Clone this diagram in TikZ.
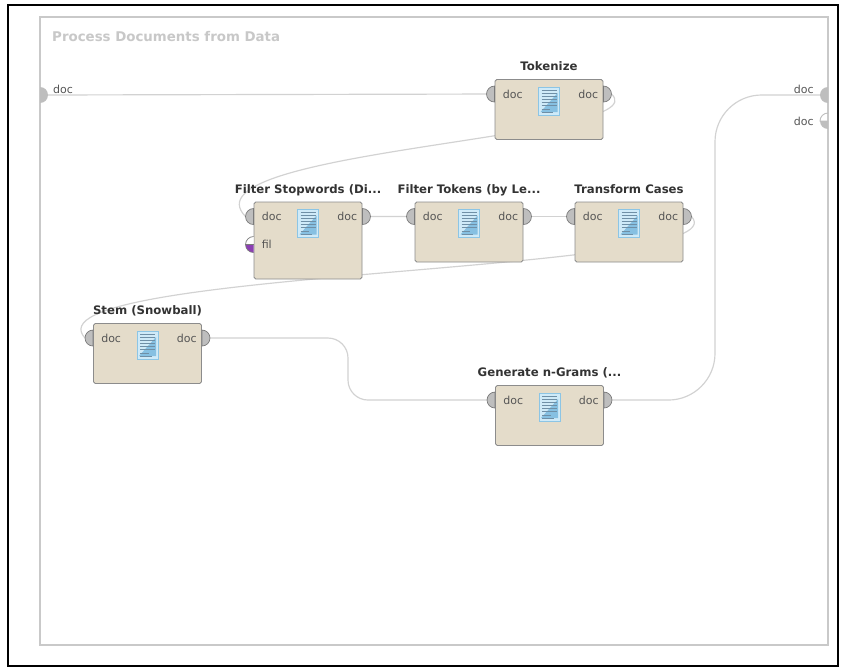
\documentclass[tikz,border=0pt]{standalone}
\usepackage{fontspec}
\setmainfont{DejaVu Sans}
\usepackage{xcolor}
\usepackage{tikz}
\usetikzlibrary{positioning, backgrounds}

\definecolor{boxfill}{HTML}{E4DCCA}
\definecolor{boxline}{HTML}{8C8C8C}
\definecolor{portgray}{HTML}{BEBEBE}
\definecolor{portline}{HTML}{7A7A7A}
\definecolor{wiregray}{HTML}{D2D2D2}
\definecolor{framegray}{HTML}{C9C9C9}
\definecolor{proctitle}{HTML}{C8C8C8}
\definecolor{titletext}{HTML}{333333}
\definecolor{labeltext}{HTML}{555555}
\definecolor{iconblue}{HTML}{CFEAF8}
\definecolor{iconline}{HTML}{8CC5E5}
\definecolor{icondark}{HTML}{86C0E2}
\definecolor{iconrule}{HTML}{6F8FA6}
\definecolor{filpurple}{HTML}{8B3FB2}

\begin{document}
\begin{tikzpicture}[x=0.03cm, y=0.03cm,
    opbox/.style={draw=boxline, fill=boxfill, rounded corners=1.5pt, line width=0.8pt,
        minimum width=3.24cm, minimum height=1.8cm, inner sep=0pt},
    optitle/.style={font=\bfseries\fontsize{10}{12}\selectfont, text=titletext, inner sep=0pt, text depth=0pt},
    portlabel/.style={font=\fontsize{9.4}{10}\selectfont, text=labeltext, inner sep=0pt},
    port/.style={fill=portgray, draw=portline, line width=0.6pt},
    wire/.style={draw=wiregray, line width=1pt}]

    % canvas and process frame
    \useasboundingbox (0,0) rectangle (846,-671);
    \draw[line width=1.5pt] (8,-5) rectangle (838,-666);
    \draw[framegray, line width=1.7pt] (40,-17) rectangle (828,-645);
    \node[anchor=west, inner sep=0pt, font=\bfseries\fontsize{11.4}{13}\selectfont, text=proctitle] (proc) at (52,-37) {Process Documents from Data};

    % process ports
    \fill[portgray] (40,-87) arc[start angle=90, end angle=-90, radius=8] -- cycle;
    \coordinate (src) at (48,-95);
    \node[portlabel, anchor=west] (src-lbl) at (53,-89) {doc};
    \fill[portgray] (828,-87) arc[start angle=90, end angle=270, radius=8] -- cycle;
    \coordinate (sink) at (820,-95);
    \node[portlabel, anchor=east] (sink-lbl) at (814,-89) {doc};
    \fill[portgray] (828,-121) -- (820,-121) arc[start angle=180, end angle=270, radius=8] -- cycle;
    \draw[portgray, line width=0.8pt] (828,-113) arc[start angle=90, end angle=180, radius=8] -- (828,-121);
    \node[portlabel, anchor=east] (sink2-lbl) at (814,-121) {doc};

    % operators
    \node[opbox] (tok) at (549,-109.5) {};
    \node[opbox, minimum height=2.31cm] (stop) at (308,-240.5) {};
    \node[opbox] (ftok) at (469,-232) {};
    \node[opbox] (tcase) at (629,-232) {};
    \node[opbox] (stem) at (147.5,-353.5) {};
    \node[opbox] (ngram) at (549.5,-415.5) {};

    % titles
    \node[optitle, above=0.24cm of tok] (tok-t) {Tokenize};
    \node[optitle, above=0.24cm of stop] (stop-t) {Filter Stopwords (Di...};
    \node[optitle, above=0.24cm of ftok] (ftok-t) {Filter Tokens (by Le...};
    \node[optitle, above=0.24cm of tcase] (tcase-t) {Transform Cases};
    \node[optitle, above=0.24cm of stem] (stem-t) {Stem (Snowball)};
    \node[optitle, above=0.24cm of ngram] (ngram-t) {Generate n-Grams (...};

    % icons, ports, port labels
    \foreach \b in {tok,stop,ftok,tcase,stem,ngram}{
        \begin{scope}[shift={(\b.north)}]
            \fill[iconblue, draw=iconline, line width=0.5pt] (-10.5,-8) rectangle (10.5,-36);
            \fill[icondark] (-8.5,-33) -- (8.5,-14) -- (8.5,-33) -- cycle;
            \foreach \l in {11,14,...,26}
                \draw[iconrule, line width=0.4pt] (-7.5,-\l) -- (7.5,-\l);
            \draw[iconrule, line width=0.4pt] (-7.5,-30) -- (1,-30);
            \draw[iconrule, line width=0.4pt] (-7.5,-33) -- (4,-33);
        \end{scope}
        \begin{scope}[shift={(\b.north west)}]
            \filldraw[port] (0,-7) arc[start angle=90, end angle=270, radius=8] -- cycle;
            \coordinate (\b-in) at (-8,-15);
            \node[portlabel, anchor=west] (\b-inlbl) at (8,-15) {doc};
        \end{scope}
        \begin{scope}[shift={(\b.north east)}]
            \filldraw[port] (0,-23) arc[start angle=-90, end angle=90, radius=8] -- cycle;
            \coordinate (\b-out) at (8,-15);
            \node[portlabel, anchor=east] (\b-outlbl) at (-5,-15) {doc};
        \end{scope}
    }

    % stopword file port
    \begin{scope}[shift={(stop.north west)}]
        \fill[white] (0,-35) arc[start angle=90, end angle=180, radius=8] -- (0,-43) -- cycle;
        \fill[filpurple] (-8,-43) arc[start angle=180, end angle=270, radius=8] -- (0,-43) -- cycle;
        \draw[portline, line width=0.6pt] (0,-35) arc[start angle=90, end angle=270, radius=8];
        \draw[portline, line width=0.4pt] (-8,-43) -- (0,-43);
        \node[portlabel, anchor=west] (stop-fillbl) at (8,-43) {fil};
    \end{scope}

    % connections
    \coordinate (drop) at (348,0);
    \coordinate (riser) at (715,0);
    \begin{scope}[on background layer]
        \fill[white] (0,0) rectangle (846,-671);
        \draw[wire] (src) -- (tok-in);
        \draw[wire] (tok-out) .. controls +(49,-45) and +(-66,67) .. (stop-in);
        \draw[wire] (stop-out) -- (ftok-in);
        \draw[wire] (ftok-out) -- (tcase-in);
        \draw[wire] (tcase-out) .. controls +(54,-58) and +(-65,70) .. (stem-in);
        \draw[wire, rounded corners=0.6cm] (stem-out) -- (stem-out -| drop) -- (ngram-in -| drop) -- (ngram-in);
        \draw[wire, rounded corners=1.4cm] (ngram-out) -- (ngram-out -| riser) -- (sink -| riser) -- (sink);
    \end{scope}
\end{tikzpicture}
\end{document}
